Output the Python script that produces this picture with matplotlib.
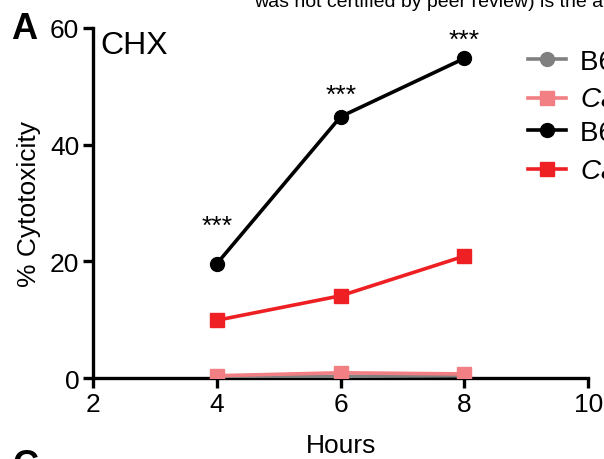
import matplotlib.pyplot as plt

plt.rcParams['font.family'] = ['Liberation Sans', 'DejaVu Sans']

hours = [4, 6, 8]
b6_mock = [0.2, 0.3, 0.4]
casp_mock = [0.4, 0.9, 0.7]
b6_chx = [19.6, 44.8, 54.8]
casp_chx = [9.9, 14.1, 20.9]
labels = ['B6 mock', 'Casp11$^{-/-}$ mock', 'B6 CHX', 'Casp11$^{-/-}$ CHX']
stars = ['***', '***', '***']
star_y = [26.0, 48.6, 58.0]

fig = plt.figure(figsize=(6.04, 4.60), dpi=100)
ax = fig.add_axes([0.154, 0.176, 0.820, 0.761])

lw = 2.6
h1, = ax.plot(hours, b6_mock, color='#808080', lw=lw, marker='o', ms=10, zorder=3)
h2, = ax.plot(hours, casp_mock, color='#F17F83', lw=lw, marker='s', ms=9.5, zorder=4)
h3, = ax.plot(hours, b6_chx, color='black', lw=lw, marker='o', ms=10, zorder=5)
h4, = ax.plot(hours, casp_chx, color='#EE2024', lw=lw, marker='s', ms=9.5, zorder=5)

for x, y, s in zip(hours, star_y, stars):
    ax.text(x, y, s, ha='center', va='center', fontsize=19)

ax.set_xlim(2, 10)
ax.set_ylim(0, 60)
ax.set_xticks([2, 4, 6, 8, 10])
ax.set_yticks([0, 20, 40, 60])
for s in ['top', 'right']:
    ax.spines[s].set_visible(False)
for s in ['left', 'bottom']:
    ax.spines[s].set_linewidth(2.4)
ax.spines['bottom'].set_zorder(2)
ax.tick_params(width=2.4, length=7, labelsize=19, direction='out', pad=3)
ax.set_xlabel('Hours', fontsize=19, labelpad=12)
ax.set_ylabel('% Cytotoxicity', fontsize=19, labelpad=6)
ax.text(0.015, 0.995, 'CHX', transform=ax.transAxes, fontsize=23, va='top')

leg = fig.legend([h1, h2, h3, h4], labels, loc='upper left',
                 bbox_to_anchor=(0.832, 0.946), frameon=False, fontsize=20,
                 handlelength=1.4, labelspacing=0.17, handletextpad=0.5)
for t, it in zip(leg.get_texts(), [False, True, False, True]):
    if it:
        t.set_style('italic')

fig.text(0.018, 0.915, 'A', fontsize=26, fontweight='bold')
fig.text(0.02, -0.035, 'C', fontsize=26, fontweight='bold')
fig.text(0.42, 0.995, 'was not certified by peer review) is the author/funder',
         fontsize=14, va='center')

fig.savefig('out.png', dpi=100)
